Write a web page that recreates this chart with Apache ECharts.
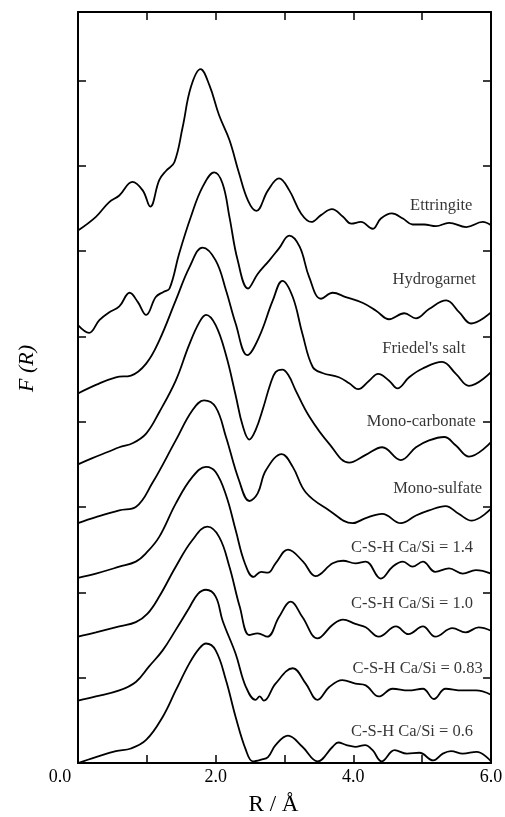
<!DOCTYPE html>
<html><head><meta charset="utf-8">
<script src="https://cdn.jsdelivr.net/npm/echarts@6/dist/echarts.min.js"></script>
<style>html,body{margin:0;padding:0;background:#fff}#c{width:505px;height:817px}</style>
</head><body><div id="c"></div>
<script>
// x: R (Å), y: F(R) stacked offsets (arbitrary units, one tick = 1)
const seriesNames = ['Ettringite','Hydrogarnet',"Friedel's salt",'Mono-carbonate','Mono-sulfate',
  'C-S-H Ca/Si = 1.4','C-S-H Ca/Si = 1.0','C-S-H Ca/Si = 0.83','C-S-H Ca/Si = 0.6'];
const xTickLabels = ['0.0','2.0','4.0','6.0'];

const ettringite = [[0,6.24],[0.26,6.40],[0.45,6.57],[0.60,6.65],[0.79,6.81],[0.94,6.71],[1.05,6.52],[1.18,6.83],[1.28,6.94],[1.40,7.04],[1.52,7.45],[1.64,7.92],[1.78,8.13],[1.91,7.94],[2.05,7.59],[2.20,7.30],[2.34,6.91],[2.47,6.59],[2.59,6.47],[2.76,6.71],[2.92,6.85],[3.07,6.71],[3.24,6.44],[3.39,6.34],[3.53,6.42],[3.69,6.49],[3.85,6.40],[3.97,6.32],[4.11,6.34],[4.28,6.26],[4.40,6.38],[4.56,6.44],[4.72,6.38],[4.86,6.31],[5.03,6.31],[5.20,6.29],[5.39,6.33],[5.64,6.28],[5.88,6.34],[6.0,6.30]];
const hydrogarnet = [[0,5.13],[0.16,5.04],[0.31,5.19],[0.45,5.28],[0.60,5.35],[0.75,5.51],[0.87,5.40],[0.99,5.25],[1.13,5.46],[1.24,5.52],[1.33,5.56],[1.47,5.97],[1.64,6.40],[1.81,6.75],[1.98,6.92],[2.10,6.79],[2.20,6.40],[2.32,5.89],[2.47,5.56],[2.61,5.73],[2.78,5.89],[2.92,6.03],[3.07,6.18],[3.22,6.05],[3.36,5.69],[3.53,5.44],[3.70,5.51],[3.89,5.46],[4.14,5.39],[4.33,5.30],[4.52,5.20],[4.74,5.27],[4.91,5.21],[5.10,5.32],[5.35,5.42],[5.54,5.28],[5.71,5.15],[6.0,5.28]];
const friedelsSalt = [[0,4.33],[0.26,4.43],[0.55,4.52],[0.77,4.54],[0.99,4.68],[1.18,4.95],[1.42,5.42],[1.62,5.81],[1.81,6.04],[2.00,5.89],[2.15,5.54],[2.29,5.15],[2.46,4.78],[2.63,4.99],[2.83,5.42],[2.97,5.65],[3.12,5.46],[3.26,5.03],[3.41,4.64],[3.55,4.57],[3.79,4.52],[3.94,4.45],[4.07,4.38],[4.23,4.48],[4.36,4.56],[4.52,4.48],[4.64,4.39],[4.81,4.52],[5.00,4.62],[5.29,4.70],[5.49,4.56],[5.68,4.42],[6.0,4.58]];
const monoCarbonate = [[0,3.50],[0.20,3.57],[0.45,3.65],[0.60,3.70],[0.80,3.75],[0.99,3.86],[1.18,4.11],[1.42,4.48],[1.61,4.89],[1.76,5.16],[1.86,5.25],[2.00,5.13],[2.15,4.78],[2.29,4.31],[2.39,3.96],[2.49,3.79],[2.58,3.90],[2.69,4.16],[2.79,4.43],[2.87,4.58],[2.97,4.61],[3.06,4.54],[3.16,4.37],[3.36,4.06],[3.65,3.74],[3.94,3.52],[4.18,3.61],[4.42,3.70],[4.69,3.55],[4.91,3.70],[5.10,3.78],[5.32,3.82],[5.49,3.72],[5.68,3.59],[6.0,3.76]];
const monoSulfate = [[0,2.81],[0.26,2.88],[0.60,2.96],[0.84,3.00],[1.08,3.28],[1.42,3.78],[1.66,4.13],[1.83,4.25],[2.00,4.17],[2.15,3.82],[2.34,3.31],[2.49,3.07],[2.61,3.16],[2.73,3.43],[2.96,3.62],[3.12,3.47],[3.31,3.17],[3.65,2.96],[3.99,2.81],[4.18,2.87],[4.42,2.92],[4.69,2.81],[4.91,2.90],[5.10,2.96],[5.34,3.01],[5.53,2.92],[5.72,2.84],[6.0,2.98]];
const csh14 = [[0,2.17],[0.26,2.22],[0.60,2.30],[0.84,2.36],[0.99,2.46],[1.18,2.65],[1.42,3.04],[1.66,3.35],[1.86,3.47],[2.00,3.41],[2.15,3.14],[2.29,2.73],[2.42,2.35],[2.55,2.18],[2.66,2.24],[2.76,2.23],[2.87,2.34],[3.05,2.50],[3.27,2.36],[3.45,2.19],[3.70,2.34],[3.85,2.37],[4.03,2.34],[4.18,2.36],[4.40,2.16],[4.57,2.30],[4.72,2.36],[4.86,2.30],[5.01,2.36],[5.19,2.24],[5.39,2.28],[5.59,2.22],[5.78,2.26],[6.0,2.22]];
const csh10 = [[0,1.48],[0.26,1.53],[0.60,1.60],[0.84,1.65],[1.01,1.75],[1.18,1.95],[1.42,2.30],[1.66,2.61],[1.88,2.77],[2.05,2.65],[2.20,2.30],[2.35,1.83],[2.49,1.50],[2.61,1.52],[2.75,1.48],[2.92,1.71],[3.09,1.89],[3.26,1.71],[3.48,1.46],[3.70,1.62],[3.85,1.68],[4.03,1.63],[4.18,1.59],[4.37,1.48],[4.62,1.60],[4.80,1.51],[5.01,1.60],[5.19,1.48],[5.44,1.58],[5.63,1.53],[5.82,1.59],[6.0,1.55]];
const csh083 = [[0,0.73],[0.26,0.78],[0.60,0.85],[0.84,0.95],[1.03,1.13],[1.23,1.32],[1.42,1.56],[1.61,1.81],[1.74,1.98],[1.86,2.03],[2.00,1.95],[2.10,1.67],[2.29,1.28],[2.44,0.89],[2.58,0.74],[2.64,0.78],[2.70,0.73],[2.87,0.93],[3.12,1.11],[3.31,0.93],[3.48,0.74],[3.65,0.89],[3.84,0.97],[4.03,0.93],[4.18,0.91],[4.37,0.78],[4.57,0.87],[4.80,0.85],[5.01,0.87],[5.17,0.75],[5.34,0.87],[5.58,0.85],[5.78,0.85],[6.0,0.80]];
const csh06 = [[0,0],[0.26,0.07],[0.55,0.14],[0.77,0.17],[0.99,0.27],[1.23,0.54],[1.42,0.85],[1.62,1.17],[1.76,1.34],[1.86,1.40],[2.00,1.32],[2.15,0.97],[2.29,0.54],[2.44,0.15],[2.54,0.02],[2.66,0.04],[2.76,0.07],[2.87,0.21],[3.05,0.32],[3.26,0.19],[3.48,0.02],[3.70,0.19],[3.78,0.24],[3.90,0.21],[4.03,0.19],[4.17,0.21],[4.28,0.15],[4.41,0.02],[4.60,0.15],[4.78,0.11],[4.96,0.12],[5.16,0.03],[5.30,0.11],[5.42,0.14],[5.59,0.11],[5.79,0.13],[6.0,0.02]];

// label anchor (right end x, centre y) for each curve name
const labelX = [5.73,5.78,5.63,5.78,5.87,5.74,5.74,5.88,5.74];
const labelY = [6.53,5.66,4.86,4.00,3.22,2.52,1.87,1.11,0.37];

const curves = [ettringite,hydrogarnet,friedelsSalt,monoCarbonate,monoSulfate,csh14,csh10,csh083,csh06];
const FONT = '"Liberation Serif","Times New Roman",serif';

const axisLine = {show:true,onZero:false,lineStyle:{color:'#000',width:2}};
const axisTick = {show:true,inside:true,length:8,lineStyle:{color:'#000',width:1.5}};

const xLabelFmt = v => {
  if (Math.abs(v % 2) > 1e-9) return '';
  const s = xTickLabels[Math.round(v/2)];
  return v === 0 ? '{l|' + s + '}' : s;
};

const chart = echarts.init(document.getElementById('c'), null, {renderer:'canvas'});
chart.setOption({
  animation:false,
  backgroundColor:'#fff',
  grid:{left:78,right:14,top:12,bottom:54,outerBoundsMode:'none',containLabel:false},
  xAxis:[
    {type:'value',position:'bottom',min:0,max:6,interval:1,axisLine,axisTick,splitLine:{show:false},
     axisLabel:{formatter:xLabelFmt,fontFamily:FONT,fontSize:18,color:'#000',margin:5,
       rich:{l:{fontFamily:FONT,fontSize:18,color:'#000',padding:[0,36,0,0]}}},
     name:'R / Å',nameLocation:'middle',nameGap:30,
     nameTextStyle:{fontFamily:FONT,fontSize:23,color:'#000',padding:[0,22,0,0]}},
    {type:'value',position:'top',min:0,max:6,interval:1,axisLine,axisTick,splitLine:{show:false},
     axisLabel:{show:false}}
  ],
  yAxis:[
    {type:'value',position:'left',min:0,max:8.8,interval:1,axisLine,axisTick,splitLine:{show:false},
     axisLabel:{show:false},
     name:'F (R)',nameLocation:'middle',nameGap:40,nameRotate:90,
     nameTextStyle:{fontFamily:FONT,fontSize:22,fontStyle:'italic',color:'#000',padding:[0,0,0,38]}},
    {type:'value',position:'right',min:0,max:8.8,interval:1,axisLine,axisTick,splitLine:{show:false},
     axisLabel:{show:false}}
  ],
  series: curves.map((d,i)=>({
    type:'line',name:seriesNames[i],data:d,xAxisIndex:0,yAxisIndex:0,
    showSymbol:false,symbol:'none',smooth:0.4,
    lineStyle:{color:'#000',width:1.8},silent:true
  })).concat([{
    type:'scatter',xAxisIndex:0,yAxisIndex:0,symbolSize:0,silent:true,
    data:seriesNames.map((n,i)=>({name:n,value:[labelX[i],labelY[i]]})),
    label:{show:true,position:'left',distance:0,formatter:p=>p.name,
      fontFamily:FONT,fontSize:16.5,color:'#000'}
  }])
});
</script>
</body></html>
